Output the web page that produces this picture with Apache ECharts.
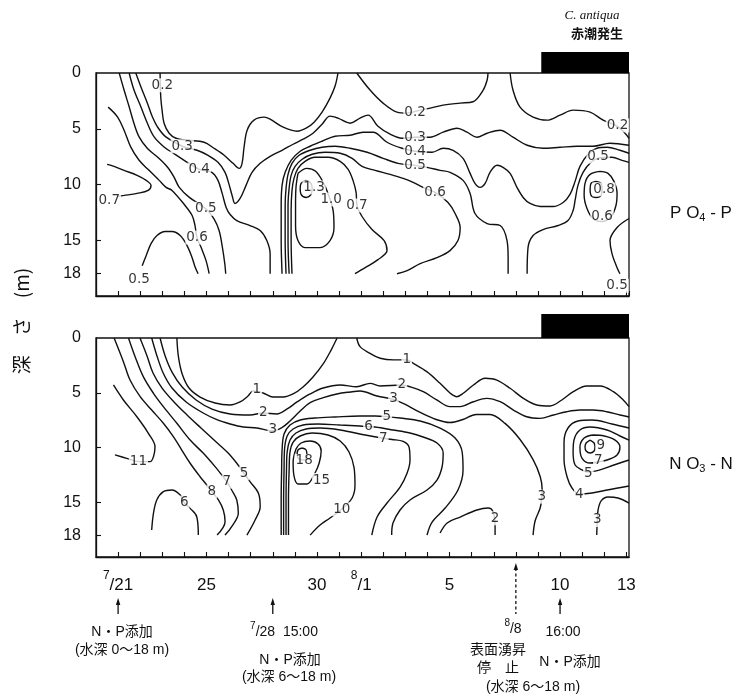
<!DOCTYPE html>
<html lang="ja">
<head>
<meta charset="utf-8">
<title>PO4-P / NO3-N 鉛直分布</title>
<script src="https://cdn.jsdelivr.net/npm/echarts@6/dist/echarts.min.js"></script>
<style>
html,body{margin:0;padding:0;background:#fff;}
#chart{width:740px;height:699px;}
</style>
</head>
<body>
<div id="chart"></div>
<script>
// x: days after 7/21 (7/21 = 0, 8/1 = 11, 8/13 = 23); y: depth (m)
const xMin = -1, xMax = 23.12;
const depthMax = 20;
const dateTickDays = [0, 4, 9, 11, 15, 20, 23];
const dateTickText = ['{s|7}{d|/21}', '{d|25}', '{d|30}', '{s|8}{d|/1}', '{d|5}', '{d|10}', '{d|13}'];
const depthTicks = [0, 5, 10, 15, 18];
const depthMinorTicks = [5, 10, 15, 18];
const redTide = [[19.15, 23.12]];      // C. antiqua red tide
const solidArrows = [0, 7, 20];        // N・P addition days
const dashedArrows = [18];             // surface upwelling stopped

function pts(days, deps) { return days.map((d, i) => [d, deps[i]]); }

// ---------- PO4-P isolines ----------
const p02a = pts([1.9,1.93,1.99,2.08,2.31,2.62,3.12,3.89,4.34,4.8,5.2,5.48,5.61,5.7,5.84,6.15,6.61,6.88,7.47,8.1,8.51,8.87,9.23,9.59,9.82,9.95],
                 [0,2.13,3.33,4.5,5.4,5.85,6.03,6.21,6.75,7.38,8.1,8.55,8.1,6.66,5.13,4.23,3.96,4.14,4.86,5.22,4.95,4.41,3.51,2.25,1.17,0]);
const p02b = pts([10.8,11.4,11.99,12.62,13.08,13.67,14.12,14.71,15.48,16.06,16.52,16.7,16.74],
                 [0,1.53,2.7,3.51,3.6,3.33,3.15,2.88,2.7,2.58,1.53,0.63,0]);
const p02c = pts([17.74,17.87,18.19,18.78,19.41,20.0,20.59,21.36,21.95,22.58,22.94,23.12],
                 [0,1.53,3.06,3.96,4.23,3.78,3.33,3.51,4.23,4.77,5.4,5.85]);
const p03 = pts([0.8,1.03,1.33,1.55,1.78,2.16,2.9,3.57,4.07,4.52,4.84,5.02,5.16,5.29,5.52,5.79,6.06,6.43,6.88,7.42,7.92,8.37,8.82,9.23,9.59,9.95,10.5,10.95,11.31,11.76,12.31,12.85,13.44,14.12,14.71,15.34,15.79,16.24,16.7,17.29,17.87,18.51,19.23,20.0,20.77,21.49,22.26,23.12],
                [0,1.23,2.73,3.93,4.83,5.73,6.57,6.93,7.38,8.01,8.91,9.99,10.98,11.7,11.25,10.08,8.91,8.1,7.47,6.93,6.39,5.94,5.4,4.59,3.87,4.05,4.5,4.05,3.78,4.77,5.49,5.85,5.76,5.76,5.31,4.95,5.31,5.76,5.4,5.13,5.76,6.48,6.75,6.66,6.57,6.57,6.3,6.48]);
const p04a = pts([0.5,0.72,1.03,1.33,1.63,2.08,2.53,2.99,3.67,4.24,4.52,4.71,4.89,5.07,5.37,5.97,6.43,6.73,6.88,6.88],
                 [0,1.53,3.03,4.53,5.73,6.63,7.23,7.83,8.64,8.91,9.63,10.8,12.06,12.69,13.23,13.68,14.13,15.03,16.23,18]);
const p04b = pts([7.42,7.38,7.38,7.42,7.56,7.83,8.24,8.69,9.23,9.82,10.5,11.09,11.54,12.17,12.85,13.44,14.21,14.71,15.16,15.61,15.93,16.15,16.38,16.61,16.83,17.15,17.42,17.74,18.05,18.33,18.64,19.1,19.68,20.14,20.45,20.68,20.9,21.27,21.67,22.13,22.71,23.12],
                 [18,15.03,11.88,10.08,8.91,7.83,7.02,6.57,6.12,5.67,5.58,5.31,5.31,6.21,6.75,7.02,7.11,6.75,6.93,7.65,9.0,9.9,10.26,9.9,8.91,8.28,8.46,9.0,10.26,11.16,11.7,11.97,11.97,11.61,10.89,9.72,8.37,7.29,6.75,6.66,6.93,7.2]);
const p05a = pts([0.05,0.27,0.5,0.72,0.95,1.33,1.78,2.23,2.53,2.76,3.21,3.97,4.34,4.57,4.72,4.83,4.87],
                 [0,1.53,3.03,4.53,5.73,6.78,7.53,8.43,9.33,10.23,11.13,12.18,13.08,14.13,15.63,17.13,18]);
const p05b = pts([7.6,7.56,7.56,7.6,7.69,7.87,8.19,8.69,9.23,9.82,10.5,11.27,11.99,12.67,13.44,13.98,14.57,15.02,15.61,15.93,16.15,16.7,17.29,17.6,17.65,17.65],
                 [18,15.03,11.88,10.35,9.09,8.1,7.38,6.93,6.66,6.57,6.75,7.11,7.65,8.1,8.28,8.46,8.73,8.91,9.63,10.8,12.6,13.5,13.68,15.03,16.56,18]);
const p05c = pts([18.51,18.55,18.78,19.23,19.91,20.36,20.59,20.68,20.81,21.04,21.4,21.72,22.35,22.81,23.12],
                 [18,15.66,14.58,14.04,13.68,13.23,12.33,11.43,10.08,8.91,8.01,7.65,7.56,7.83,8.01]);
const p05d = pts([1.09,1.27,1.49,1.76,2.13,2.44,2.81,3.12,3.35,3.48,3.62],
                 [17.28,16.38,15.3,14.58,14.22,14.22,14.58,15.48,16.56,17.37,18]);
const p05e = pts([23.12,22.58,22.26,22.35,22.58,22.71], [13.05,13.86,15.03,16.2,17.46,18]);
const p06a = pts([-0.45,-0.03,0.27,0.57,0.95,1.4,1.86,2.17,2.44,3.03,3.35,3.48,3.57,3.76,3.98,4.12],
                 [3.06,3.93,5.13,6.63,7.83,8.73,9.63,10.26,10.53,11.88,12.78,13.68,14.76,15.66,16.83,18]);
const p06b = pts([7.74,7.69,7.69,7.74,7.83,8.01,8.33,8.78,9.37,10.05,10.59,11.04,11.63,12.31,12.9,13.35,13.8,14.34,14.93,15.25,15.48,15.38,15.02,14.43,13.67,13.08,12.62],
                 [18,15.03,11.88,10.35,9.18,8.37,7.74,7.29,7.11,7.2,7.65,8.37,8.73,9.09,9.45,9.81,10.26,10.71,11.61,12.6,13.86,15.03,15.93,16.56,17.1,17.73,18]);
const p06c = pts([21.81,21.36,21.13,21.09,21.22,21.49,21.9,22.31,22.53,22.58,22.44,22.17,21.81],
                 [8.82,9.09,9.9,10.98,12.15,13.05,13.32,12.87,11.88,10.8,9.72,9.0,8.82]);
const p07a = pts([-0.5,-0.32,0.27,0.86,1.27,1.49,1.36,0.86,0.27,-0.05],
                 [8.19,8.28,8.73,9.18,9.63,10.08,10.53,10.8,10.98,11.07]);
const p07b = pts([7.87,7.83,7.83,7.87,7.96,8.14,8.46,8.91,9.5,10.05,10.41,10.63,10.77,10.81,11.04,11.49,12.04,12.17,11.76,11.18,10.72],
                 [18,15.03,12.33,10.53,9.45,8.55,7.92,7.56,7.56,7.92,8.64,9.63,10.71,11.88,12.87,14.04,15.03,15.93,16.74,17.46,18]);
const p08 = pts([21.63,21.4,21.36,21.4,21.63,21.86,21.9,21.86,21.63],
                [9.72,9.9,10.44,10.98,11.16,10.98,10.44,9.9,9.72]);
const p10 = pts([8.14,8.54,8.94,9.28,9.5,9.73,9.77,9.59,9.14,8.46,8.14,8.03,8.03,8.05,8.14],
                [9.0,8.55,8.82,9.81,10.8,12.33,13.86,15.03,15.66,15.66,15.03,13.68,11.88,10.26,9.0]);
const p13 = pts([8.51,8.28,8.24,8.28,8.51,8.73,8.78,8.73,8.51],
                [9.63,9.9,10.35,10.89,11.16,10.89,10.35,9.9,9.63]);
const po4Lines = [p02a,p02b,p02c,p03,p04a,p04b,p05a,p05b,p05c,p05d,p05e,p06a,p06b,p06c,p07a,p07b,p08,p10,p13];
const po4Labels = [[2.0,1.1,'0.2'],[2.9,6.57,'0.3'],[3.67,8.64,'0.4'],[3.97,12.18,'0.5'],[3.57,14.76,'0.6'],
  [-0.4,11.43,'0.7'],[0.95,18.54,'0.5'],[8.87,10.26,'1.3'],[9.64,11.34,'1.0'],[10.81,11.88,'0.7'],
  [13.44,3.57,'0.2'],[13.44,5.76,'0.3'],[13.44,7.02,'0.4'],[13.44,8.28,'0.5'],[14.34,10.7,'0.6'],
  [22.6,4.7,'0.2'],[21.72,7.5,'0.5'],[21.99,10.44,'0.8'],[21.9,12.9,'0.6'],[22.58,19.08,'0.5']];

// ---------- NO3-N isolines ----------
const n01a = pts([2.66,2.73,2.9,3.21,3.71,4.39,5.07,5.52,5.88,6.11,6.56,7.01,7.47,7.92,8.37,8.82,9.28,9.64,9.91],
                 [0,1.71,3.29,4.57,5.39,5.94,6.12,5.84,5.3,4.84,5.02,5.39,5.39,5.11,4.47,3.56,2.37,1.1,0]);
const n01b = pts([10.8,10.95,11.4,11.86,12.46,13.06,13.36,13.97,14.57,15.02,15.33,15.62,16.08,16.61,17.14,17.74,18.34,18.95,19.55,20.08,20.6,21.21,21.81,22.41,22.86,23.12],
                 [0,0.79,1.4,1.85,2.0,2.0,2.31,3.07,4.14,5.02,5.36,5.05,4.29,3.68,3.84,4.59,5.51,6.12,6.21,5.66,4.9,4.38,4.38,4.9,5.66,6.27]);
const n02a = pts([1.9,2.13,2.44,2.9,3.53,4.25,5.07,5.97,6.56,7.18,7.65,8.1,8.69,9.28,10.05,10.8,11.4,11.86,12.84,13.21,13.81,14.42,15.02,15.48,16.08,16.68,17.29,17.89,18.49,19.1,19.7,20.3,20.9,21.51,22.11,22.71,23.12],
                 [0,1.64,3.11,4.48,5.66,6.49,6.94,7.03,6.85,6.94,6.48,5.84,5.11,4.57,4.29,4.45,4.14,4.38,4.29,4.45,4.9,5.66,6.27,6.27,5.82,5.51,5.82,6.58,7.19,7.34,7.03,6.73,6.58,6.58,6.73,7.03,7.21]);
const n02b = pts([14.57,14.89,15.48,16.24,16.74,16.97,17.06,17.06], [17.81,16.89,16.35,15.71,15.53,15.89,17.26,18]);
const n03a = pts([1.52,1.76,2.04,2.44,3.08,3.85,4.47,5.07,5.67,6.28,7.0,7.41,7.78,8.24,8.69,9.29,9.9,10.5,10.95,11.72,12.46,12.9,13.67,14.39,15.02,15.61,16.2,16.83,17.51,18.19,18.78,19.1,19.19,19.17,19.1,18.87,18.78],
                 [0,1.64,3.2,4.57,5.84,6.85,7.46,7.85,8.13,8.22,8.49,8.19,7.58,6.67,5.9,5.45,5.11,4.93,4.84,5.3,5.6,5.97,6.8,7.44,7.72,7.44,6.98,6.98,7.8,9.27,11.1,12.65,13.83,14.62,15.53,16.71,18]);
const n03b = pts([21.66,21.67,21.69,21.72,21.86,22.17,22.62,23.12], [18,17.35,16.62,15.71,14.88,14.52,14.61,15.07]);
const n04 = pts([23.12,22.35,21.45,20.81,20.36,20.18,20.18,20.32,20.54,20.86,21.45,22.13,23.12],
                [8.22,7.85,7.49,7.58,8.22,9.5,11.14,12.69,13.7,14.25,14.16,13.88,13.52]);
const n05a = pts([0.99,1.31,1.58,1.99,2.53,3.12,3.75,4.39,4.98,5.37,5.7,5.97,6.35,6.43,6.2,5.83],
                 [0,1.64,3.2,4.57,5.84,7.03,8.22,9.41,10.5,11.44,12.36,13.12,14.18,15.41,16.62,18]);
const n05b = pts([7.38,7.38,7.4,7.42,7.51,7.78,8.24,8.91,9.82,10.95,11.63,12.16,12.76,13.67,14.57,15.25,15.57,15.61,15.38,14.8,14.21,13.98],
                 [18,14.79,12.05,10.23,8.77,7.95,7.49,7.31,7.21,7.12,7.12,7.18,7.31,7.58,8.22,9.13,10.41,12.05,13.88,15.53,16.81,18]);
const n05c = pts([23.12,22.71,22.13,21.36,20.9,20.63,20.59,20.68,21.0,21.27,21.81,22.44,23.12],
                 [9.32,8.95,8.4,8.13,8.4,9.32,10.41,11.6,12.05,12.24,12.05,11.6,11.14]);
const n06a = pts([1.52,1.6,1.75,2.05,2.43,2.81,2.99,3.26,3.56,3.63],
                 [17.53,16.01,14.79,14.03,13.88,14.33,15.04,15.56,16.32,18]);
const n06b = pts([7.49,7.49,7.51,7.53,7.65,7.92,8.37,9.05,10.05,10.95,11.33,11.63,12.44,13.21,13.8,14.43,14.71,14.66,14.43,13.98,13.21,12.76,12.44,12.38],
                 [18,14.79,12.05,10.23,8.95,8.31,7.95,7.85,7.95,8.04,8.1,8.13,8.4,8.68,9.04,9.59,10.5,11.78,12.97,13.88,14.79,15.71,16.9,18]);
const n07a = pts([0.47,0.77,1.14,1.6,2.05,2.66,3.26,3.86,4.39,4.69,4.92,5.14,5.37,5.44,5.14,4.84],
                 [0,1.71,3.53,5.05,6.27,7.79,9.32,10.53,11.75,12.51,13.12,13.88,14.79,16.01,17.23,18]);
const n07b = pts([7.6,7.6,7.62,7.65,7.78,8.05,8.51,9.14,10.05,11.18,12.0,12.4,12.9,13.17,13.21,13.08,12.76,12.17,11.72,11.48],
                 [18,14.79,12.05,10.41,9.32,8.68,8.31,8.22,8.4,8.86,9.16,9.27,9.45,9.99,11.14,12.33,13.61,15.07,16.35,18]);
const n07c = pts([21.49,21.09,20.9,20.99,21.36,21.72,22.13,22.58,22.71,22.49,22.0,21.49],
                 [8.86,9.13,9.95,10.96,11.42,11.32,11.14,10.68,9.95,9.32,8.95,8.86]);
const n08 = pts([-0.18,0.24,0.54,1.0,1.52,2.05,2.5,2.88,3.26,3.71,4.01,4.24,4.54,4.76,4.84,4.48],
                [0,2.16,3.84,5.36,6.58,7.79,9.01,10.23,11.44,12.67,13.42,14.03,14.79,15.71,16.78,18]);
const n09 = pts([21.36,21.18,21.13,21.18,21.36,21.54,21.58,21.54,21.36],
                [9.32,9.59,9.95,10.32,10.5,10.32,9.95,9.59,9.32]);
const n10 = pts([7.71,7.71,7.74,7.78,7.92,8.24,8.78,9.5,10.05,10.45,10.68,10.72,10.59,10.12,9.59,9.14,8.69],
                [18,14.79,12.05,10.41,9.5,8.95,8.68,8.86,9.41,10.41,11.87,13.42,14.61,15.64,16.44,17.08,18]);
const n11 = pts([-0.21,0.24,0.85,1.37,1.67,1.6,1.45,0.92,0.39,-0.14],
                [4.29,5.66,7.19,8.7,9.93,10.84,11.29,11.29,10.99,10.68]);
const n15 = pts([8.05,8.28,8.69,9.05,9.19,9.1,8.91,8.55,8.14,7.96,7.92,8.05],
                [10.14,9.59,9.41,9.68,10.32,11.42,12.33,13.33,13.33,12.6,11.32,10.14]);
const n18 = pts([8.33,8.14,8.1,8.19,8.42,8.55,8.51,8.33],
                [10.05,10.23,10.68,11.05,11.14,10.78,10.23,10.05]);
const no3Lines = [n01a,n01b,n02a,n02b,n03a,n03b,n04,n05a,n05b,n05c,n06a,n06b,n07a,n07b,n07c,n08,n09,n10,n11,n15,n18];
const no3Labels = [[6.28,4.68,'1'],[6.57,6.82,'2'],[7.0,8.4,'3'],[0.92,11.29,'11'],[5.7,12.36,'5'],
  [4.92,13.12,'7'],[4.24,14.03,'8'],[2.99,15.04,'6'],[8.42,11.23,'18'],[9.21,12.97,'15'],[10.12,15.64,'10'],
  [13.06,2.0,'1'],[12.84,4.29,'2'],[12.46,5.51,'3'],[12.16,7.18,'5'],[11.33,8.1,'6'],[12.0,9.16,'7'],
  [19.17,14.49,'3'],[17.06,16.46,'2'],[21.84,9.84,'9'],[21.73,11.2,'7'],[21.28,12.36,'5'],[20.87,14.27,'4'],[21.69,16.62,'3']];

// ---------- styling ----------
const INK = '#111';
const LATIN = '"Liberation Sans", Arial, sans-serif';
const CJK = '"Liberation Sans", "Noto Sans CJK JP", sans-serif';

function isoSeries(data, idx) {
  return { type: 'line', xAxisIndex: idx, yAxisIndex: idx, data: data, smooth: 0.35,
    symbol: 'none', showSymbol: false, silent: true, animation: false, z: 2,
    lineStyle: { color: INK, width: 1.4 } };
}
function labelSeries(data, idx) {
  return { type: 'scatter', xAxisIndex: idx, yAxisIndex: idx, data: data, symbolSize: 1,
    itemStyle: { color: 'rgba(0,0,0,0)' }, silent: true, animation: false, z: 6,
    label: { show: true, position: 'inside', formatter: p => p.value[2], color: '#000',
      fontSize: 13.5, fontFamily: '"DejaVu Sans", sans-serif', backgroundColor: '#fff', padding: [0, 1] } };
}
function barSeries(idx, h) {
  return { type: 'custom', xAxisIndex: idx, yAxisIndex: idx, data: redTide, clip: false,
    encode: { x: [0, 1] }, silent: true, animation: false, z: 3,
    renderItem: (params, api) => {
      const a = api.coord([api.value(0), 0]);
      const b = api.coord([api.value(1), 0]);
      return { type: 'rect', shape: { x: a[0], y: a[1] - h, width: b[0] - a[0], height: h }, style: { fill: '#000' } };
    } };
}
function arrowSeries(days, dashed) {
  return { type: 'custom', xAxisIndex: 1, yAxisIndex: 1, data: days.map(d => [d, depthMax]), clip: false,
    silent: true, animation: false, z: 3,
    renderItem: (params, api) => {
      const p = api.coord([api.value(0), depthMax]);
      const x = p[0], y0 = p[1];
      const top = dashed ? y0 + 6 : y0 + 41;
      const bot = y0 + 57;
      return { type: 'group', children: [
        { type: 'line', shape: { x1: x, y1: top + 5, x2: x, y2: bot },
          style: { stroke: INK, lineWidth: 1.3, lineDash: dashed ? [3, 2.5] : null } },
        { type: 'polygon', shape: { points: [[x, top], [x - 2.2, top + 7], [x + 2.2, top + 7]] }, style: { fill: INK } }
      ] };
    } };
}

function xAxis(i, withLabels) {
  return { type: 'value', gridIndex: i, min: xMin, max: xMax, interval: 1, position: 'bottom',
    axisLine: { show: true, onZero: false, lineStyle: { color: INK, width: 1.3 } },
    axisTick: { show: true, inside: true, length: 5, lineStyle: { color: INK, width: 1.1 } },
    splitLine: { show: false },
    axisLabel: withLabels ? {
      show: true, margin: 13, showMinLabel: false, showMaxLabel: false,
      formatter: v => {
        const r = Math.round(v);
        const k = dateTickDays.indexOf(r);
        return (Math.abs(v - r) < 1e-6 && k >= 0) ? dateTickText[k] : '';
      },
      rich: {
        s: { fontSize: 12, fontFamily: LATIN, color: INK, verticalAlign: 'top', lineHeight: 24 },
        d: { fontSize: 17, fontFamily: LATIN, color: INK, verticalAlign: 'bottom', lineHeight: 24 }
      }
    } : { show: false } };
}
function yAxis(i) {
  return { type: 'value', gridIndex: i, inverse: true, min: 0, max: depthMax, position: 'left',
    axisLine: { show: true, onZero: false, lineStyle: { color: INK, width: 1.3 } },
    axisTick: { show: true, inside: true, length: 5, customValues: depthMinorTicks, lineStyle: { color: INK, width: 1.1 } },
    axisLabel: { show: true, customValues: depthTicks, margin: 15, fontSize: 16, color: INK, fontFamily: LATIN },
    splitLine: { show: false } };
}

function txt(x, y, text, size, extra) {
  return Object.assign({ type: 'text', x: x, y: y, silent: true, z: 50,
    style: { text: text, fill: INK, fontSize: size, fontFamily: CJK,
      align: 'center', verticalAlign: 'middle', textAlign: 'center', textVerticalAlign: 'middle' } }, extra || {});
}

const series = [];
po4Lines.forEach(l => series.push(isoSeries(l, 0)));
no3Lines.forEach(l => series.push(isoSeries(l, 1)));
series.push(labelSeries(po4Labels, 0), labelSeries(no3Labels, 1));
series.push(barSeries(0, 21), barSeries(1, 24));
series.push(arrowSeries(solidArrows, false), arrowSeries(dashedArrows, true));

const supRich = {
  s: { fontSize: 10, fontFamily: LATIN, fill: INK, verticalAlign: 'top', lineHeight: 18 },
  d: { fontSize: 14, fontFamily: LATIN, fill: INK, verticalAlign: 'bottom', lineHeight: 18 }
};
const chemRich = {
  a: { fontSize: 17, fontFamily: LATIN, fill: INK, lineHeight: 20 },
  b: { fontSize: 11, fontFamily: LATIN, fill: INK, lineHeight: 20, verticalAlign: 'bottom' }
};

const chart = echarts.init(document.getElementById('chart'), null, { renderer: 'canvas' });
chart.setOption({
  backgroundColor: '#fff',
  animation: false,
  grid: [
    { left: 96, top: 73, width: 533, height: 223, show: true, borderColor: INK, borderWidth: 1.3, backgroundColor: 'transparent' },
    { left: 96, top: 338, width: 533, height: 219, show: true, borderColor: INK, borderWidth: 1.3, backgroundColor: 'transparent' }
  ],
  xAxis: [xAxis(0, false), xAxis(1, true)],
  yAxis: [yAxis(0), yAxis(1)],
  series: series,
  graphic: [
    txt(22, 321, '', 19, { rotation: Math.PI / 2, style: { text: '深　さ　(m)', fill: INK, fontSize: 19,
      fontFamily: '"Noto Sans CJK JP", sans-serif', align: 'center', verticalAlign: 'middle' } }),
    txt(701, 213, '', 16, { style: { text: '{a|P O}{b|4}{a| - P}', align: 'center', verticalAlign: 'middle', rich: chemRich } }),
    txt(701, 464, '', 16, { style: { text: '{a|N O}{b|3}{a| - N}', align: 'center', verticalAlign: 'middle', rich: chemRich } }),
    txt(592, 16, '', 13, { style: { text: 'C. antiqua', fill: INK, fontSize: 13, fontStyle: 'italic',
      fontFamily: '"Liberation Serif", serif', align: 'center', verticalAlign: 'middle' } }),
    txt(597, 33, '', 13, { style: { text: '赤潮発生', fill: INK, fontSize: 13, fontWeight: 'bold',
      fontFamily: '"Noto Sans CJK JP", sans-serif', align: 'center', verticalAlign: 'middle' } }),
    txt(122, 632, 'N・P添加', 14),
    txt(122, 650, '(水深 0～18 m)', 14),
    txt(284, 630, '', 14, { style: { text: '{s|7}{d|/28  15:00}', align: 'center', verticalAlign: 'middle', rich: supRich } }),
    txt(290, 660, 'N・P添加', 14),
    txt(289, 677, '(水深 6～18 m)', 14),
    txt(513, 627, '', 14, { style: { text: '{s|8}{d|/8}', align: 'center', verticalAlign: 'middle', rich: supRich } }),
    txt(498, 650, '表面湧昇', 14),
    txt(498, 668, '停　止', 14),
    txt(533, 687, '(水深 6～18 m)', 14),
    txt(563, 632, '16:00', 14),
    txt(570, 662, 'N・P添加', 14)
  ]
});
</script>
</body>
</html>
